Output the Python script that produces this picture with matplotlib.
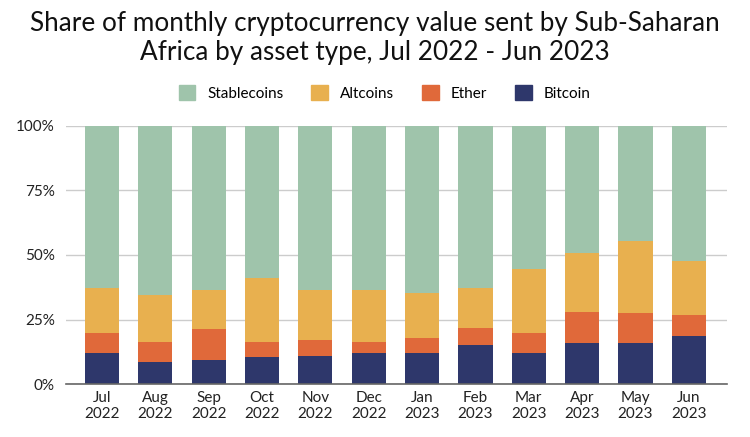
import numpy as np
import matplotlib.pyplot as plt
from matplotlib.patches import Patch

plt.rcParams['font.family'] = ['Lato', 'DejaVu Sans']

months = ["Jul\n2022", "Aug\n2022", "Sep\n2022", "Oct\n2022", "Nov\n2022", "Dec\n2022",
          "Jan\n2023", "Feb\n2023", "Mar\n2023", "Apr\n2023", "May\n2023", "Jun\n2023"]

# shares in percent
bitcoin = [12.0, 8.4, 9.5, 10.4, 10.8, 12.0, 12.0, 15.3, 12.0, 15.8, 15.8, 18.7]
ether = [7.7, 7.9, 11.7, 5.9, 6.4, 4.3, 5.8, 6.3, 7.7, 12.1, 11.6, 8.2]
altcoins = [17.6, 18.4, 15.4, 24.8, 19.4, 20.3, 17.5, 15.6, 24.8, 22.7, 28.2, 20.7]
stablecoins = [100 - b - e - a for b, e, a in zip(bitcoin, ether, altcoins)]

c_btc = '#2e376b'
c_eth = '#e0693a'
c_alt = '#e8b04f'
c_stb = '#9fc4ab'

fig = plt.figure(figsize=(7.5, 4.37), dpi=100)
ax = fig.add_axes([0.088, 0.121, 0.881, 0.591])

x = np.arange(len(months))
w = 0.64
b1 = np.array(bitcoin)
b2 = b1 + np.array(ether)
b3 = b2 + np.array(altcoins)
ax.bar(x, bitcoin, w, color=c_btc, zorder=3)
ax.bar(x, ether, w, bottom=b1, color=c_eth, zorder=3)
ax.bar(x, altcoins, w, bottom=b2, color=c_alt, zorder=3)
ax.bar(x, stablecoins, w, bottom=b3, color=c_stb, zorder=3)

ax.set_xlim(-0.674, 11.71)
ax.set_ylim(0, 100)
ax.set_yticks([0, 25, 50, 75, 100])
ax.set_yticklabels(['0%', '25%', '50%', '75%', '100%'])
ax.set_xticks(x)
ax.set_xticklabels(months)
ax.tick_params(axis='both', length=0, labelsize=11, colors='#222222')
ax.tick_params(axis='y', pad=8)
ax.tick_params(axis='x', pad=5)
ax.yaxis.grid(True, color='#cccccc', linewidth=1, zorder=0)
for s in ['top', 'right', 'left']:
    ax.spines[s].set_visible(False)
ax.spines['bottom'].set_color('#666666')
ax.spines['bottom'].set_linewidth(1.2)
ax.spines['bottom'].set_zorder(4)

fig.text(0.5, 0.975, "Share of monthly cryptocurrency value sent by Sub-Saharan\nAfrica by asset type, Jul 2022 - Jun 2023",
         ha='center', va='top', fontsize=18.8, color='#111111', linespacing=1.2)

handles = [Patch(color=c_stb, label='Stablecoins'), Patch(color=c_alt, label='Altcoins'),
           Patch(color=c_eth, label='Ether'), Patch(color=c_btc, label='Bitcoin')]
fig.legend(handles=handles, loc='center', bbox_to_anchor=(0.513, 0.787), ncol=4, frameon=False,
           fontsize=11, handlelength=1.1, handleheight=1.1, handletextpad=0.8, columnspacing=1.8)

plt.savefig('out.png', dpi=100)
